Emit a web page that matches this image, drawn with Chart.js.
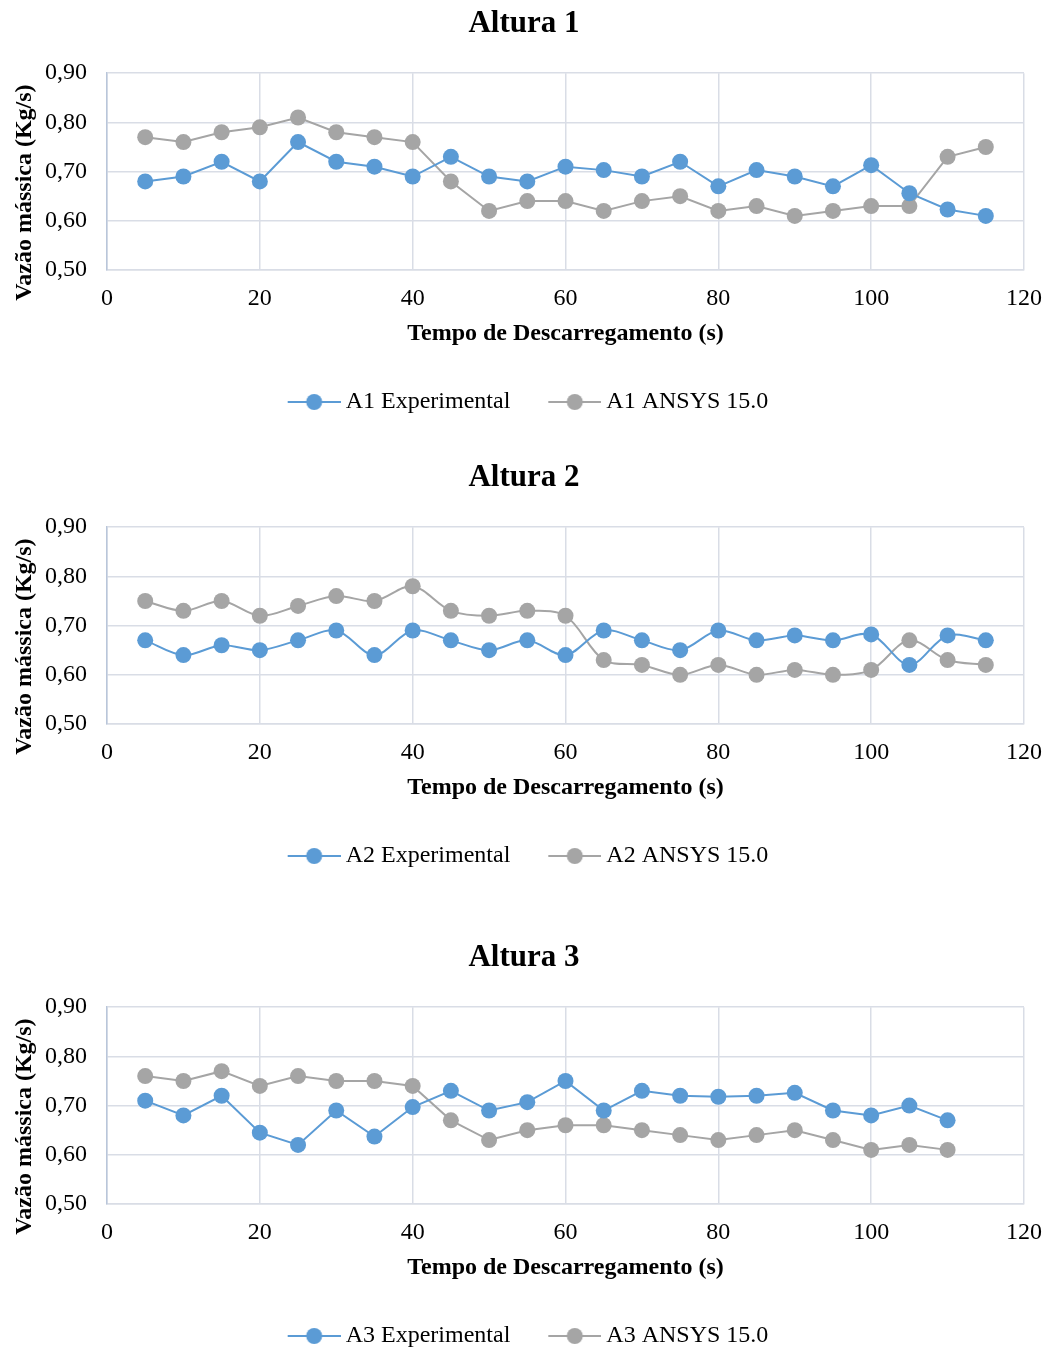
<!DOCTYPE html>
<html>
<head>
<meta charset="utf-8">
<script src="https://cdn.jsdelivr.net/npm/chart.js@4.4.0/dist/chart.umd.min.js"></script>
<style>
    html, body { margin: 0; padding: 0; background: #fff; overflow: hidden; }
    .box { position: absolute; left: 0; width: 1048px; height: 424px; }
</style>
</head>
<body>
<div class="box" style="top:0px"><canvas id="chart1" width="1048" height="424"></canvas></div>
<div class="box" style="top:454px"><canvas id="chart2" width="1048" height="424"></canvas></div>
<div class="box" style="top:934px"><canvas id="chart3" width="1048" height="424"></canvas></div>
<script>
// Tempo de descarregamento (s)
const tempo = [5, 10, 15, 20, 25, 30, 35, 40, 45, 50, 55, 60, 65, 70, 75, 80, 85, 90, 95, 100, 105, 110, 115];
const tempo3 = [5, 10, 15, 20, 25, 30, 35, 40, 45, 50, 55, 60, 65, 70, 75, 80, 85, 90, 95, 100, 105, 110];

// Altura 1
const a1Experimental = [0.68, 0.69, 0.72, 0.68, 0.76, 0.72, 0.71, 0.69, 0.73, 0.69, 0.68, 0.71, 0.703, 0.69, 0.72, 0.67, 0.703, 0.69, 0.67, 0.713, 0.656, 0.623, 0.61];
const a1Ansys = [0.77, 0.76, 0.78, 0.79, 0.81, 0.78, 0.77, 0.76, 0.68, 0.62, 0.64, 0.64, 0.62, 0.64, 0.65, 0.62, 0.63, 0.61, 0.62, 0.63, 0.63, 0.73, 0.75];

// Altura 2
const a2Experimental = [0.67, 0.64, 0.66, 0.65, 0.67, 0.69, 0.64, 0.69, 0.67, 0.65, 0.67, 0.64, 0.69, 0.67, 0.65, 0.69, 0.67, 0.68, 0.67, 0.682, 0.62, 0.68, 0.67];
const a2Ansys = [0.75, 0.73, 0.75, 0.72, 0.74, 0.76, 0.75, 0.78, 0.73, 0.72, 0.73, 0.72, 0.63, 0.62, 0.60, 0.62, 0.60, 0.61, 0.60, 0.61, 0.67, 0.63, 0.62];

// Altura 3
const a3Experimental = [0.71, 0.68, 0.72, 0.645, 0.62, 0.69, 0.637, 0.697, 0.73, 0.69, 0.707, 0.75, 0.69, 0.73, 0.72, 0.718, 0.72, 0.726, 0.69, 0.68, 0.70, 0.67];
const a3Ansys = [0.76, 0.75, 0.77, 0.74, 0.76, 0.75, 0.75, 0.74, 0.67, 0.63, 0.65, 0.66, 0.66, 0.65, 0.64, 0.63, 0.64, 0.65, 0.63, 0.61, 0.62, 0.61];

// Tick labels
const xTicks = [0, 20, 40, 60, 80, 100, 120];
const yTicks = [0.5, 0.6, 0.7, 0.8, 0.9];

const BLUE = '#5b9bd5';
const GRAY = '#a5a5a5';
const GRID = '#d9dde6';
const SERIF = "'Liberation Serif', 'Times New Roman', serif";

// legend symbol: short line with a dot, drawn into a small canvas
function legendIcon(color) {
    const c = document.createElement('canvas');
    c.width = 88; c.height = 20;
    const g = c.getContext('2d');
    g.strokeStyle = color;
    g.lineWidth = 2;
    g.beginPath(); g.moveTo(35, 10); g.lineTo(88, 10); g.stroke();
    g.fillStyle = color;
    g.beginPath(); g.arc(61.5, 10, 8, 0, Math.PI * 2); g.fill();
    return c;
}

// y axis title drawn a bit below the middle, and legend nudged left, like the original
const tweaksPlugin = {
    id: 'tweaks',
    afterLayout(chart) {
        chart.legend.left -= 10;
        chart.legend.right -= 10;
    },
    afterDraw(chart, args, opts) {
        const { ctx, chartArea } = chart;
        ctx.save();
        ctx.translate(25, (chartArea.top + chartArea.bottom) / 2 + 21);
        ctx.rotate(-Math.PI / 2);
        ctx.font = 'bold 24px ' + SERIF;
        ctx.fillStyle = '#000';
        ctx.textAlign = 'center';
        ctx.textBaseline = 'middle';
        ctx.fillText(opts.text, 0, 0);
        ctx.restore();
    }
};

function makeChart(id, title, prefix, xs, exp, ansys, tension) {
    const icons = [legendIcon(BLUE), legendIcon(GRAY)];
    const toPoints = ys => ys.map((y, i) => ({ x: xs[i], y: y }));

    return new Chart(document.getElementById(id).getContext('2d'), {
        type: 'line',
        data: {
            datasets: [
                {
                    label: prefix + ' Experimental',
                    data: toPoints(exp),
                    borderColor: BLUE,
                    backgroundColor: BLUE,
                    pointBackgroundColor: BLUE,
                    pointBorderColor: BLUE,
                    borderWidth: 2,
                    pointRadius: 8,
                    pointBorderWidth: 0,
                    tension: tension
                },
                {
                    label: prefix + ' ANSYS 15.0',
                    data: toPoints(ansys),
                    borderColor: GRAY,
                    backgroundColor: GRAY,
                    pointBackgroundColor: GRAY,
                    pointBorderColor: GRAY,
                    borderWidth: 2,
                    pointRadius: 8,
                    pointBorderWidth: 0,
                    tension: tension
                }
            ]
        },
        options: {
            responsive: false,
            animation: false,
            devicePixelRatio: 1,
            layout: { padding: 0 },
            scales: {
                x: {
                    type: 'linear',
                    min: 0,
                    max: 120,
                    afterBuildTicks: scale => { scale.ticks = xTicks.map(v => ({ value: v })); },
                    afterFit: scale => {
                        scale.height = 110;
                        scale.paddingLeft = 0;
                        scale.paddingRight = 0;
                    },
                    grid: { color: GRID, lineWidth: 1.5, drawTicks: false },
                    border: { color: GRID, width: 1.5 },
                    ticks: { color: '#000', padding: 14, font: { family: SERIF, size: 24 } },
                    title: {
                        display: true,
                        text: 'Tempo de Descarregamento (s)',
                        color: '#000',
                        font: { family: SERIF, size: 24, weight: 'bold' },
                        padding: { top: 4, bottom: 32 }
                    }
                },
                y: {
                    min: 0.5,
                    max: 0.9,
                    afterBuildTicks: scale => { scale.ticks = yTicks.map(v => ({ value: v })); },
                    afterFit: scale => { scale.width = 107; },
                    grid: { color: GRID, lineWidth: 1.5, drawTicks: false },
                    border: { color: '#b9c6da', width: 1.5 },
                    ticks: {
                        color: '#000',
                        padding: 20,
                        font: { family: SERIF, size: 24 },
                        callback: v => v.toFixed(2).replace('.', ',')
                    }
                },
                // empty axis on the right, only to reserve the margin
                yRight: {
                    position: 'right',
                    min: 0.5,
                    max: 0.9,
                    afterFit: scale => { scale.width = 24; },
                    grid: { display: false, drawOnChartArea: false },
                    border: { display: false },
                    ticks: { display: false }
                }
            },
            plugins: {
                title: {
                    display: true,
                    text: title,
                    color: '#000',
                    font: { family: SERIF, size: 31, weight: 'bold' },
                    padding: { top: 5, bottom: 31 }
                },
                legend: {
                    position: 'bottom',
                    labels: {
                        usePointStyle: true,
                        pointStyleWidth: 74,
                        padding: 10,
                        color: '#000',
                        font: { family: SERIF, size: 24 },
                        generateLabels: chart => chart.data.datasets.map((ds, i) => ({
                            text: ds.label,
                            pointStyle: icons[i],
                            fillStyle: ds.borderColor,
                            strokeStyle: ds.borderColor,
                            lineWidth: 0,
                            hidden: false,
                            datasetIndex: i,
                            fontColor: '#000'
                        }))
                    }
                },
                tooltip: { enabled: false },
                tweaks: { text: 'Vazão mássica (Kg/s)' }
            }
        },
        plugins: [tweaksPlugin]
    });
}

document.addEventListener('DOMContentLoaded', () => {
    makeChart('chart1', 'Altura 1', 'A1', tempo, a1Experimental, a1Ansys, 0);
    makeChart('chart2', 'Altura 2', 'A2', tempo, a2Experimental, a2Ansys, 0.33);
    makeChart('chart3', 'Altura 3', 'A3', tempo3, a3Experimental, a3Ansys, 0);
});
</script>
</body>
</html>
